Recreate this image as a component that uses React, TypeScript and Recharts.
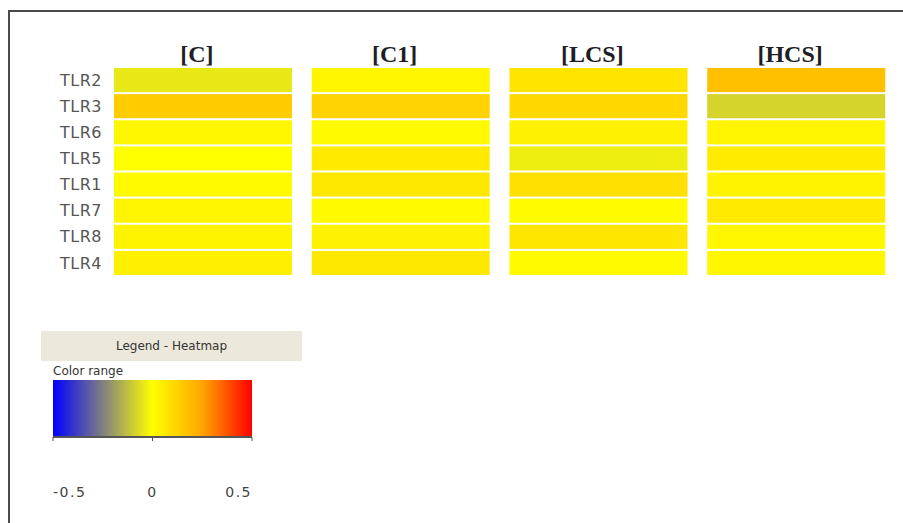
import { Bar, BarChart, Cell, XAxis, YAxis } from "recharts";

const columns = ["[C]", "[C1]", "[LCS]", "[HCS]"];
const rows = ["TLR2", "TLR3", "TLR6", "TLR5", "TLR1", "TLR7", "TLR8", "TLR4"];

// one array per column, in row order
const valuesC = [-0.045, 0.142, 0.022, 0.0, 0.014, 0.028, 0.031, 0.042];
const valuesC1 = [0.028, 0.125, 0.014, 0.058, 0.064, 0.014, 0.036, 0.064];
const valuesLCS = [0.075, 0.108, 0.036, -0.033, 0.086, 0.008, 0.07, 0.014];
const valuesHCS = [0.175, -0.085, 0.028, 0.055, 0.033, 0.058, 0.022, 0.025];
const columnValues = [valuesC, valuesC1, valuesLCS, valuesHCS];

const legendTicks = [-0.5, 0, 0.5];

const colorStops: { v: number; c: number[] }[] = [
  { v: -0.5, c: [0, 0, 255] },
  { v: -0.25, c: [128, 128, 128] },
  { v: 0, c: [255, 255, 0] },
  { v: 0.25, c: [255, 165, 0] },
  { v: 0.5, c: [255, 0, 0] },
];

function valueToColor(v: number) {
  const x = Math.max(-0.5, Math.min(0.5, v));
  for (let i = 0; i < colorStops.length - 1; i++) {
    const a = colorStops[i];
    const b = colorStops[i + 1];
    if (x >= a.v && x <= b.v) {
      const t = (x - a.v) / (b.v - a.v);
      const c = a.c.map((ch, k) => Math.round(ch + (b.c[k] - ch) * t));
      return `rgb(${c[0]},${c[1]},${c[2]})`;
    }
  }
  return "rgb(255,255,0)";
}

const table = columns.map((name) => {
  const entry: Record<string, any> = { name };
  rows.forEach((r) => {
    entry[r] = 1;
  });
  return entry;
});

const legendData = [{ name: "range", range: [-0.5, 0.5] }];

// reversed axis gives negative heights, so normalise and leave a thin gap
const rowShape = (props: any) => {
  const { x, y, width, height, fill } = props;
  const top = height < 0 ? y + height : y;
  const h = Math.abs(height);
  return <rect x={x} y={top + 1} width={width} height={Math.max(0, h - 2)} fill={fill} />;
};

const LegendTick = (props: any) => {
  const { x, y, payload, index } = props;
  const anchor = index === 0 ? "start" : index === legendTicks.length - 1 ? "end" : "middle";
  return (
    <text
      x={x}
      y={y + 54}
      textAnchor={anchor}
      fill="#444"
      fontSize={14}
      letterSpacing={1.5}
      fontFamily="DejaVu Sans, sans-serif"
    >
      {payload.value}
    </text>
  );
};

export default function App() {
  return (
    <div
      style={{
        position: "absolute",
        left: 0,
        top: 0,
        width: 903,
        height: 523,
        background: "#fff",
        overflow: "hidden",
        fontFamily: "DejaVu Sans, sans-serif",
      }}
    >
      <div
        style={{
          position: "absolute",
          left: 8,
          top: 10,
          width: 895,
          height: 513,
          boxSizing: "border-box",
          borderTop: "2px solid #4a4a4a",
          borderLeft: "2px solid #4a4a4a",
        }}
      />

      <div style={{ position: "absolute", left: 0, top: 0 }}>
        <BarChart
          width={903}
          height={290}
          data={table}
          barCategoryGap={10}
          margin={{ top: 37, right: 8, left: 44, bottom: 14 }}
        >
          <XAxis
            dataKey="name"
            orientation="top"
            height={30}
            axisLine={false}
            tickLine={false}
            tickSize={4}
            tickMargin={1}
            tick={{
              fill: "#1e1e24",
              fontSize: 24,
              fontWeight: 700,
              fontFamily: "Liberation Serif, serif",
              dx: -6,
            }}
          />
          <YAxis
            type="number"
            domain={[0, rows.length]}
            reversed
            ticks={rows.map((_, i) => i + 0.5)}
            interval={0}
            tickFormatter={(v: number) => rows[Math.floor(v)]}
            width={60}
            axisLine={false}
            tickLine={false}
            tickSize={0}
            tickMargin={2}
            tick={{ fill: "#555", fontSize: 16, letterSpacing: 0.5, fontFamily: "DejaVu Sans, sans-serif" }}
          />
          {rows.map((r, ri) => (
            <Bar key={r} dataKey={r} stackId="s" isAnimationActive={false} shape={rowShape}>
              {columns.map((c, ci) => (
                <Cell key={c} fill={valueToColor(columnValues[ci][ri])} />
              ))}
            </Bar>
          ))}
        </BarChart>
      </div>

      <div
        style={{
          position: "absolute",
          left: 41,
          top: 331,
          width: 261,
          height: 30,
          background: "#ece9dc",
          color: "#333",
          fontSize: 12,
          lineHeight: "30px",
          textAlign: "center",
        }}
      >
        Legend - Heatmap
      </div>
      <div
        style={{
          position: "absolute",
          left: 53,
          top: 364,
          color: "#333",
          fontSize: 12,
          lineHeight: "14px",
        }}
      >
        Color range
      </div>

      <div style={{ position: "absolute", left: 0, top: 360 }}>
        <BarChart
          width={320}
          height={140}
          layout="vertical"
          data={legendData}
          barCategoryGap={0}
          margin={{ top: 20, right: 68, left: 53, bottom: 0 }}
        >
          <defs>
            <linearGradient id="heatGrad" x1="0" y1="0" x2="1" y2="0">
              {colorStops.map((s) => (
                <stop
                  key={s.v}
                  offset={`${((s.v + 0.5) / 1) * 100}%`}
                  stopColor={`rgb(${s.c[0]},${s.c[1]},${s.c[2]})`}
                />
              ))}
            </linearGradient>
          </defs>
          <XAxis
            type="number"
            domain={[-0.5, 0.5]}
            ticks={legendTicks}
            interval={0}
            height={63}
            axisLine={{ stroke: "#555", strokeWidth: 2 }}
            tickLine={{ stroke: "#555" }}
            tickSize={4}
            tickMargin={2}
            tick={<LegendTick />}
          />
          <YAxis type="category" dataKey="name" hide />
          <Bar dataKey="range" fill="url(#heatGrad)" isAnimationActive={false} />
        </BarChart>
      </div>
    </div>
  );
}
